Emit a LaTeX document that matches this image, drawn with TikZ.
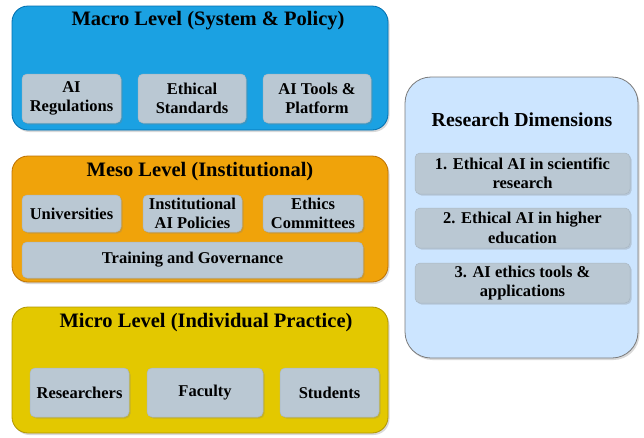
\documentclass[tikz,border=0pt]{standalone}
\usepackage{fontspec}
\setmainfont{Liberation Serif}
\usetikzlibrary{shadows}
\definecolor{macrofill}{HTML}{1BA1E2}
\definecolor{macroline}{HTML}{006EAF}
\definecolor{mesofill}{HTML}{F0A30A}
\definecolor{mesoline}{HTML}{BD7000}
\definecolor{microfill}{HTML}{E3C800}
\definecolor{microline}{HTML}{B09500}
\definecolor{dimfill}{HTML}{CCE5FF}
\definecolor{dimline}{HTML}{7A7A7A}
\definecolor{itemfill}{HTML}{BAC8D3}
\definecolor{itemline}{HTML}{A9B7C2}
\tikzset{
  x=1pt, y=-1pt,
  levelbox/.style={draw, line width=0.8pt, rounded corners=16pt,
    drop shadow={shadow xshift=1.5pt, shadow yshift=-2pt, opacity=0.3}},
  itembox/.style={draw=itemline, fill=itemfill, line width=0.5pt, rounded corners=5pt,
    drop shadow={shadow xshift=1.5pt, shadow yshift=-1.5pt, opacity=0.3},
    align=center, inner sep=0pt,
    font=\fontsize{16.5}{19.5}\selectfont\bfseries},
  leveltitle/.style={font=\fontsize{20.5}{24}\selectfont\bfseries, inner sep=0pt},
}
\begin{document}
\begin{tikzpicture}
\useasboundingbox (0,0) rectangle (644,437);

% ---- Macro level ----
\node[levelbox, fill=macrofill, draw=macroline, minimum width=376pt, minimum height=124pt]
  (macro) at (200,68) {};
\node[leveltitle] (macrot) at (208,21) {Macro Level (System \& Policy)};
\node[itembox, minimum width=99pt, minimum height=49pt] (reg) at (71.5,98.5) {AI\\Regulations};
\node[itembox, minimum width=108pt, minimum height=49pt] (eth) at (192,98.5) {Ethical\\Standards};
\node[itembox, minimum width=108pt, minimum height=49pt] (tools) at (317,98.5) {AI Tools \&\\Platform};

% ---- Meso level ----
\node[levelbox, fill=mesofill, draw=mesoline, minimum width=376pt, minimum height=126pt]
  (meso) at (200,219) {};
\node[leveltitle] (mesot) at (200,172) {Meso Level (Institutional)};
\node[itembox, minimum width=99pt, minimum height=37pt] (uni) at (71.5,213.5) {Universities};
\node[itembox, minimum width=99pt, minimum height=37pt] (pol) at (192.5,213.5) {Institutional\\AI Policies};
\node[itembox, minimum width=100pt, minimum height=37pt] (com) at (313,213.5) {Ethics\\Committees};
\node[itembox, minimum width=341pt, minimum height=36pt] (train) at (192.5,260) {Training and Governance};

% ---- Micro level ----
\node[levelbox, fill=microfill, draw=microline, minimum width=376pt, minimum height=126pt]
  (micro) at (200,370) {};
\node[leveltitle] (microt) at (206,323) {Micro Level (Individual Practice)};
\node[itembox, minimum width=99pt, minimum height=49pt] (res) at (79.5,392.5) {Researchers};
\node[itembox, minimum width=116pt, minimum height=49pt] (fac) at (205,392.5) {Faculty};
\node[itembox, minimum width=99pt, minimum height=49pt] (stu) at (329.5,392.5) {Students};

% ---- Research dimensions ----
\node[levelbox, fill=dimfill, draw=dimline, rounded corners=26pt,
  minimum width=233pt, minimum height=281pt] (dims) at (521.5,217.5) {};
\node[leveltitle, font=\fontsize{19.8}{24}\selectfont\bfseries] (dimst) at (522,120) {Research Dimensions};
\node[itembox, minimum width=215pt, minimum height=41pt] (d1) at (522.5,173.5) {1. Ethical AI in scientific\\research};
\node[itembox, minimum width=215pt, minimum height=40pt] (d2) at (522.5,228) {2. Ethical AI in higher\\education};
\node[itembox, minimum width=215pt, minimum height=40pt] (d3) at (522.5,283) {3. AI ethics tools \&\\applications};
\end{tikzpicture}
\end{document}
